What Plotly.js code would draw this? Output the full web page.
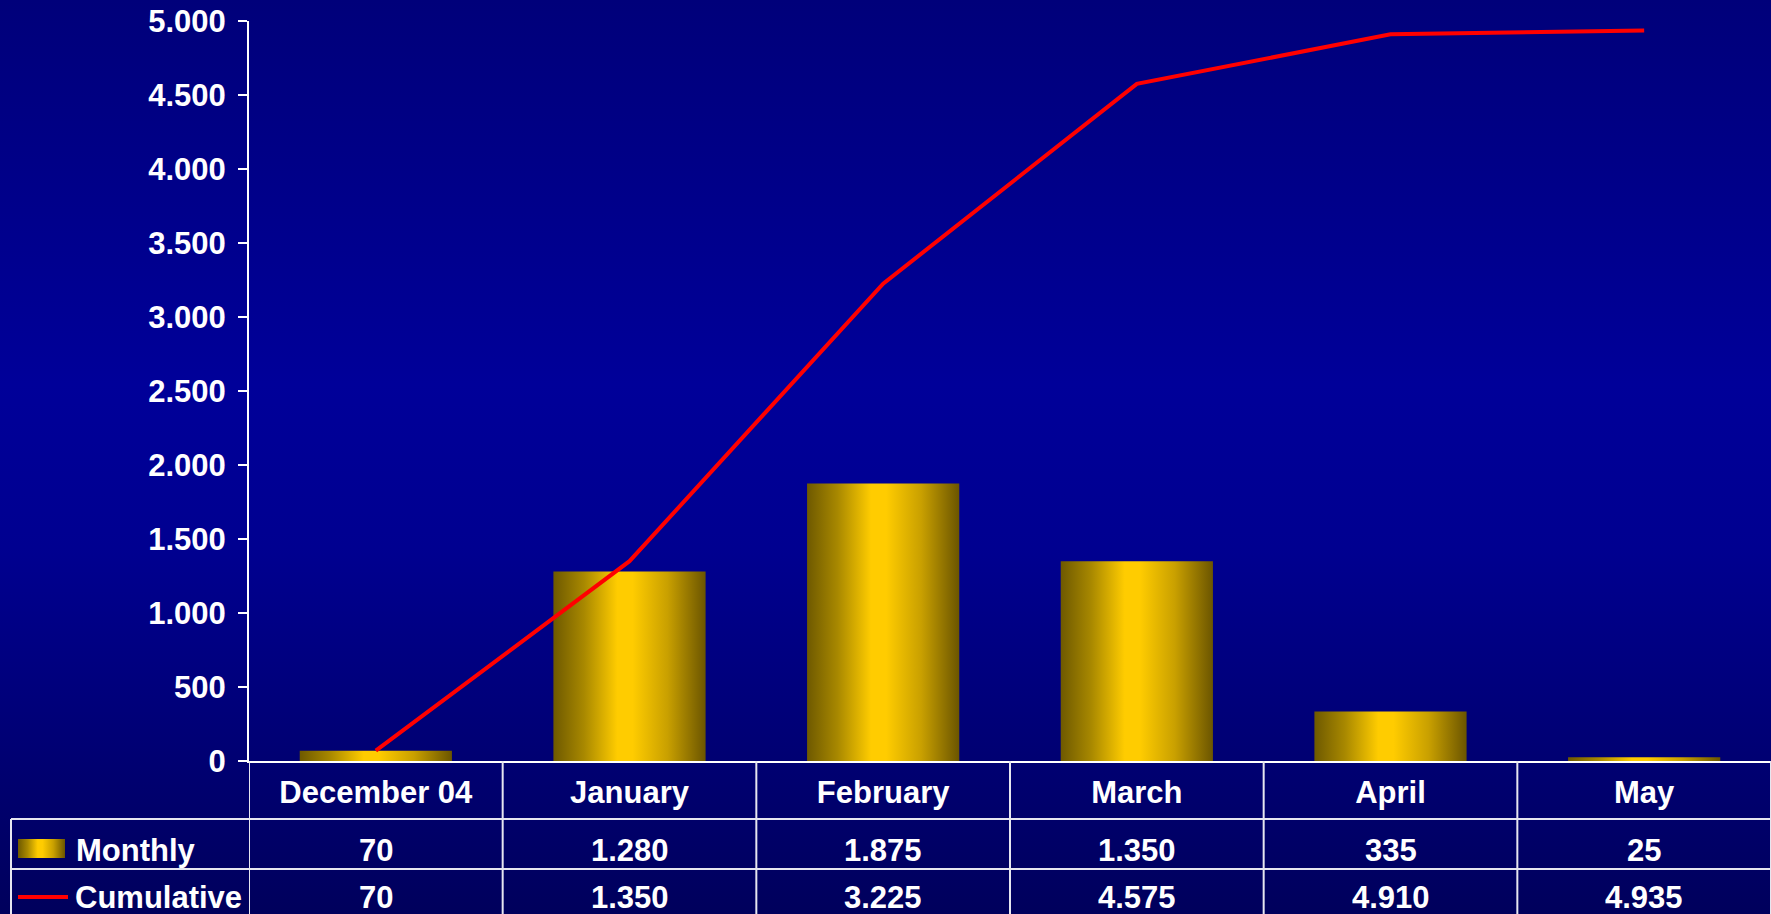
<!DOCTYPE html>
<html>
<head>
<meta charset="utf-8">
<script src="https://cdn.plot.ly/plotly-3.0.1.min.js"></script>
<style>
  html, body { margin: 0; padding: 0; width: 1771px; height: 914px; overflow: hidden; }
  body { background: linear-gradient(to bottom, #00007A 0%, #000099 42%, #000090 60%, #00005C 100%); }
  #chart { width: 1771px; height: 914px; }
</style>
</head>
<body>
<svg width="0" height="0" style="position:absolute">
  <defs>
    <linearGradient id="goldGrad" x1="0" y1="0" x2="1" y2="0">
      <stop offset="0" stop-color="#6E5900"/>
      <stop offset="0.2" stop-color="#A88800"/>
      <stop offset="0.42" stop-color="#FFCC00"/>
      <stop offset="0.52" stop-color="#FFCC00"/>
      <stop offset="0.75" stop-color="#C9A000"/>
      <stop offset="1" stop-color="#6B5500"/>
    </linearGradient>
  </defs>
</svg>
<div id="chart"></div>
<script>
// ---- data ----
const categories = ['December 04', 'January', 'February', 'March', 'April', 'May'];
const monthly = [70, 1280, 1875, 1350, 335, 25];
const cumulative = [70, 1350, 3225, 4575, 4910, 4935];
const seriesNames = ['Monthly', 'Cumulative'];

// ---- layout geometry ----
const W = 1771, H = 914;
const M = { l: 249, r: 0, t: 21, b: 153 };
const plotW = W - M.l - M.r, plotH = H - M.t - M.b;
const px = x => (x - M.l) / plotW;
const py = y => (H - M.b - y) / plotH;

const FONT = 'Liberation Sans, Arial, Helvetica, sans-serif';
const FS = 31;
const white = '#FFFFFF';
const gridCol = '#E6E6F0';

function fmt(n) { return String(n).replace(/\B(?=(\d{3})+(?!\d))/g, '.'); }

const traces = [
  {
    type: 'bar', name: seriesNames[0], x: categories, y: monthly,
    width: 0.6,
    marker: { color: '#FFCC00', line: { width: 0 } },
    hoverinfo: 'skip'
  },
  {
    type: 'scatter', mode: 'lines', name: seriesNames[1], x: categories, y: cumulative,
    line: { color: '#FF0000', width: 4 },
    cliponaxis: false, hoverinfo: 'skip'
  }
];

const shapes = [];
const annotations = [];
const rowLines = [819, 869];
const tableLeft = 11;
const tableBottom = 930;

// vertical column dividers
for (let k = 0; k <= categories.length; k++) {
  shapes.push({ type: 'line', xref: 'x', yref: 'paper', x0: k - 0.5, x1: k - 0.5,
    y0: 0, y1: py(tableBottom), line: { color: gridCol, width: 2 }, layer: 'above' });
}
// horizontal row lines
rowLines.forEach(y => {
  shapes.push({ type: 'line', xref: 'paper', yref: 'paper', x0: px(tableLeft), x1: 1,
    y0: py(y), y1: py(y), line: { color: gridCol, width: 2 } });
});
// left border of legend column
shapes.push({ type: 'line', xref: 'paper', yref: 'paper', x0: px(tableLeft), x1: px(tableLeft),
  y0: py(rowLines[0]), y1: py(tableBottom), line: { color: gridCol, width: 2 } });

// legend keys
shapes.push({ type: 'rect', xref: 'paper', yref: 'paper', x0: px(18), x1: px(65),
  y0: py(858), y1: py(839), fillcolor: 'rgb(255,204,1)', line: { width: 0 } });
shapes.push({ type: 'line', xref: 'paper', yref: 'paper', x0: px(18), x1: px(68),
  y0: py(897), y1: py(897), line: { color: '#FF0000', width: 4 } });

const rowCenters = [850, 897];
const rowBoxH = [undefined, 28];
[monthly, cumulative].forEach((arr, r) => {
  const extra = rowBoxH[r] ? { height: rowBoxH[r], valign: 'middle', borderpad: 0 } : {};
  annotations.push(Object.assign({ xref: 'paper', yref: 'paper', x: px(74), y: py(rowCenters[r]),
    xanchor: 'left', yanchor: 'middle', showarrow: false, text: seriesNames[r],
    font: { family: FONT, size: FS, color: white, weight: 'bold' } }, extra));
  arr.forEach((v, i) => {
    annotations.push(Object.assign({ xref: 'x', yref: 'paper', x: categories[i], y: py(rowCenters[r]),
      xanchor: 'center', yanchor: 'middle', showarrow: false, text: fmt(v),
      font: { family: FONT, size: FS, color: white, weight: 'bold' } }, extra));
  });
});

const layout = {
  width: W, height: H,
  margin: { l: M.l, r: M.r, t: M.t, b: M.b, pad: 0 },
  paper_bgcolor: 'rgba(0,0,0,0)', plot_bgcolor: 'rgba(0,0,0,0)',
  showlegend: false,
  separators: ',.',
  hovermode: false,
  xaxis: {
    type: 'category', range: [-0.5, categories.length - 0.5], fixedrange: true,
    showline: true, linecolor: white, linewidth: 2, ticks: '', showgrid: false,
    tickfont: { family: FONT, size: FS, color: white, weight: 'bold' },
    ticklabelstandoff: 3
  },
  yaxis: {
    range: [0, 5000], tick0: 0, dtick: 500, fixedrange: true,
    showline: true, linecolor: white, linewidth: 2,
    ticks: 'outside', ticklen: 9, tickwidth: 2, tickcolor: white,
    showgrid: false, zeroline: false, separatethousands: true, tickformat: ',d',
    tickfont: { family: FONT, size: FS, color: white, weight: 'bold' },
    ticklabelstandoff: 6
  },
  shapes: shapes,
  annotations: annotations
};

Plotly.newPlot('chart', traces, layout, { staticPlot: true, displayModeBar: false }).then(gd => {
  gd.querySelectorAll('.trace.bars .point path').forEach(p => {
    p.style.fill = 'url(#goldGrad)';
  });
  gd.querySelectorAll('.shapelayer path').forEach(p => {
    if (p.style.fill === 'rgb(255, 204, 1)') p.style.fill = 'url(#goldGrad)';
  });
});
</script>
</body>
</html>
